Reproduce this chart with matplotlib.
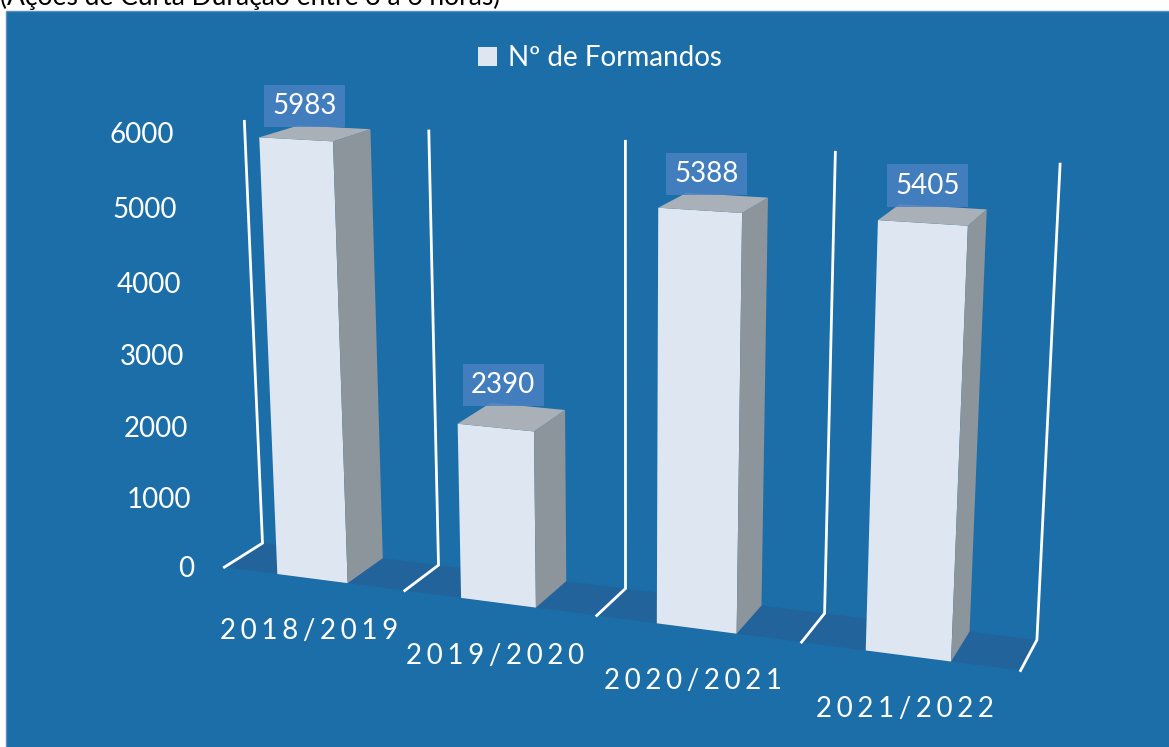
import matplotlib.pyplot as plt
import numpy as np
from matplotlib.patches import Polygon, Rectangle, Patch

plt.rcParams['font.family'] = ['Lato', 'DejaVu Sans']

# data
anos = ['2018/2019', '2019/2020', '2020/2021', '2021/2022']
formandos = [5983, 2390, 5388, 5405]
ticks = [0, 1000, 2000, 3000, 4000, 5000, 6000]
legenda = 'Nº de Formandos'
titulo = '(Ações de Curta Duração entre 3 a 6 horas)'

# colours
bg = '#1B6EA7'
floor_c = '#22639B'
front_c = '#DEE6F1'
side_c = '#8C949C'
top_c = '#A9B0B7'
box_c = '#4A81C2'

# perspective camera: world (category slot, depth 0..1, value in thousands) -> screen px
P = np.array([[170.6848, 46.87464, -5.176603, 313.1719],
              [5.603036, -7.47281, -74.57361, 578.6907],
              [-0.03078896, 0.03110965, -0.008246509, 1.0]])


def proj(u, v, w):
    p = P @ np.array([u, v, w / 1000, 1.0])
    return p[0] / p[2], p[1] / p[2]


fig = plt.figure(figsize=(11.69, 7.47), dpi=100)
ax = fig.add_axes([0, 0, 1, 1])
ax.set_xlim(0, 1169)
ax.set_ylim(747, 0)
ax.axis('off')

fig.text(0.0, 1 - 5 / 747, titulo, fontsize=19, color='black', va='baseline', ha='left')
ax.add_patch(Rectangle((6, 11), 1170, 740, fc=bg, ec='#5B8CC4', lw=1))

# floor and category gridlines
n = len(anos)
ax.add_patch(Polygon([proj(-0.5, 0, 0), proj(n - 0.5, 0, 0), proj(n - 0.5, 1, 0), proj(-0.5, 1, 0)],
                     fc=floor_c, ec='none'))
for k in range(n + 1):
    u = k - 0.5
    pts = np.array([proj(u, 0, 0), proj(u, 1, 0), proj(u, 1, ticks[-1])])
    ax.plot(pts[:, 0], pts[:, 1], color='white', lw=2, solid_joinstyle='miter')

# bars
for i, val in enumerate(formandos):
    u0, u1 = i - 0.2, i + 0.19
    ax.add_patch(Polygon([proj(u0, 0, 0), proj(u1, 0, 0), proj(u1, 0, val), proj(u0, 0, val)],
                         fc=front_c, ec='none'))
    ax.add_patch(Polygon([proj(u1, 0, 0), proj(u1, 1, 0), proj(u1, 1, val), proj(u1, 0, val)],
                         fc=side_c, ec='none'))
    ax.add_patch(Polygon([proj(u0, 0, val), proj(u1, 0, val), proj(u1, 1, val), proj(u0, 1, val)],
                         fc=top_c, ec='none'))
    lx = proj(i, 0.2, val)[0]
    ly = proj(i, 1, val)[1]
    ax.annotate(str(val), (lx, ly), xytext=(0, 6), textcoords='offset points',
                ha='center', va='bottom', fontsize=20, color='white',
                bbox=dict(boxstyle='square,pad=0.3', fc=box_c, ec='none', alpha=0.85))
    ax.annotate('\u2006'.join(anos[i]), proj(i, 0, 0), xytext=(-3, -38), textcoords='offset points',
                ha='center', va='center', fontsize=20, color='white')

for t in ticks:
    x, y = proj(-0.5, 0, t)
    ax.text(x - 30, y + 2, str(t), ha='right', va='center', fontsize=20, color='white')

fig.legend(handles=[Patch(fc=front_c, ec='none')], labels=[legenda], loc='center',
           bbox_to_anchor=(600 / 1169, 1 - 58 / 747), frameon=False, fontsize=20,
           labelcolor='white', handlelength=0.7, handleheight=0.7, handletextpad=0.4)

fig.savefig('out.png', dpi=100, facecolor='white')
